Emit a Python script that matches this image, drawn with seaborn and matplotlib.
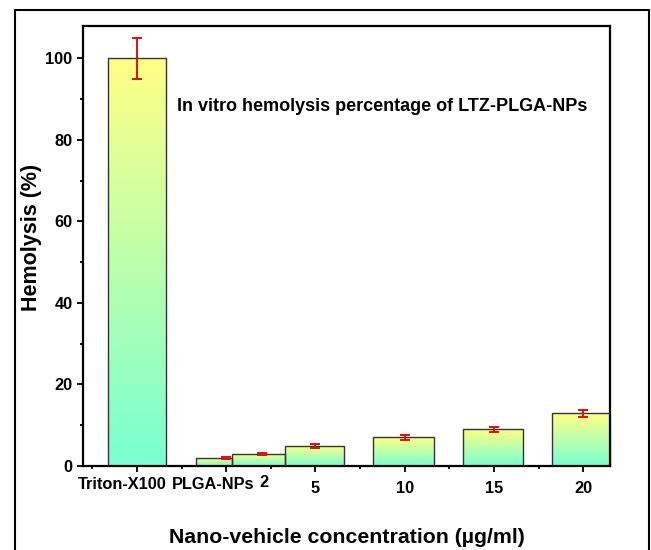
import numpy as np
import pandas as pd
import matplotlib
matplotlib.use("Agg")
import matplotlib.pyplot as plt
from matplotlib.colors import LinearSegmentedColormap
from matplotlib.patches import Rectangle
import seaborn as sns

# ---- data ----
categories = ["Triton-X100", "PLGA-NPs", "2", "5", "10", "15", "20"]
hemolysis = [100.0, 1.9, 3.0, 5.0, 7.0, 9.0, 12.9]
hemolysis_err = [5.1, 0.3, 0.3, 0.5, 0.6, 0.6, 0.8]
y_ticks = [0, 20, 40, 60, 80, 100]
annotation = "In vitro hemolysis percentage of LTZ-PLGA-NPs"
x_title = "Nano-vehicle concentration (\u00b5g/ml)"
y_title = "Hemolysis (%)"

# ---- layout (positions on the x axis, not data) ----
bar_centers = [0.0, 0.86, 1.36, 1.99, 2.99, 3.99, 4.99]
bar_widths = [0.66, 0.40, 0.60, 0.66, 0.68, 0.67, 0.67]
err_x = [0.0, 1.0, 1.40, 2.0, 3.0, 4.0, 5.0]
label_x = [-0.17, 0.85, 1.42, 2.0, 3.0, 4.0, 5.0]
label_dy = [-13.0, -13.0, -11.8, -16.5, -16.5, -16.5, -16.5]

sns.set_style("white")
plt.rcParams["font.family"] = ["Liberation Sans", "DejaVu Sans"]
plt.rcParams["font.weight"] = "bold"
plt.rcParams["axes.labelweight"] = "bold"
for k in ["text.color", "axes.labelcolor", "xtick.color", "ytick.color",
          "axes.edgecolor"]:
    plt.rcParams[k] = "black"

fig = plt.figure(figsize=(6.51, 5.50), dpi=100)
ax = fig.add_axes([83 / 651, 84 / 550, 527 / 651, 440.3 / 550])

df = pd.DataFrame({"cat": categories, "val": hemolysis})
sns.barplot(data=df, x="cat", y="val", order=categories, ax=ax,
            color="white", edgecolor="#333333", linewidth=1.0,
            errorbar=None, zorder=3)

cmap = LinearSegmentedColormap.from_list("g", ["#78FFD2", "#FFFF85"])
grad = np.linspace(0, 1, 256).reshape(-1, 1)
for p, c, w in zip(ax.patches, bar_centers, bar_widths):
    p.set_x(c - w / 2)
    p.set_width(w)
    p.set_facecolor("none")
    h = p.get_height()
    im = ax.imshow(grad, extent=(c - w / 2, c + w / 2, 0, h), origin="lower",
                   aspect="auto", cmap=cmap, zorder=2)
    im.set_clip_path(p)

ax.errorbar(err_x, hemolysis, yerr=hemolysis_err, fmt="none",
            ecolor="#E01010", elinewidth=1.4, capsize=3.4, capthick=1.4,
            zorder=4)

ax.set_xlim(-0.605, 5.30)
ax.set_ylim(0, 108)

ax.set_xticks(range(6))
ax.set_xticklabels([""] * 6)
ax.set_xticks(np.arange(-0.5, 5.0, 1.0), minor=True)
ax.set_yticks(y_ticks)
ax.set_yticklabels([str(v) for v in y_ticks])
ax.set_yticks([10, 30, 50, 70, 90], minor=True)
ax.tick_params(which="major", direction="out", length=4, width=1.3,
               labelsize=11.8, pad=3.5, top=False, right=False,
               bottom=True, left=True, colors="black")
ax.tick_params(which="minor", direction="out", length=2.2, width=1.3,
               top=False, right=False, bottom=True, left=True, colors="black")
for s in ax.spines.values():
    s.set_linewidth(1.6)
    s.set_color("black")
    s.set_visible(True)

for t, xv, dy in zip(categories, label_x, label_dy):
    ax.annotate(t, xy=(xv, 0), xycoords=("data", "axes fraction"),
                xytext=(0, dy), textcoords="offset points",
                ha="center", va="center", fontsize=11.8, fontweight="bold",
                color="black", annotation_clip=False)

ax.text(0.45, 88.3, annotation, ha="left", va="center", fontsize=13,
        fontweight="bold", color="black")

ax.set_xlabel(x_title, fontsize=15.3, fontweight="bold", color="black")
ax.set_ylabel(y_title, fontsize=15.5, fontweight="bold", color="black")
ax.xaxis.set_label_coords(0.5, -0.162)
ax.yaxis.set_label_coords(-0.097, 0.518)
ax.xaxis.label.set_va("center")
ax.yaxis.label.set_va("center")

frame = Rectangle((14.5 / 651, -0.1), (648.5 - 14.5) / 651, 1.1 - 9.5 / 550,
                  transform=fig.transFigure, fill=False, edgecolor="black",
                  linewidth=1.5, clip_on=False)
fig.add_artist(frame)

fig.savefig("out.png", dpi=100)
